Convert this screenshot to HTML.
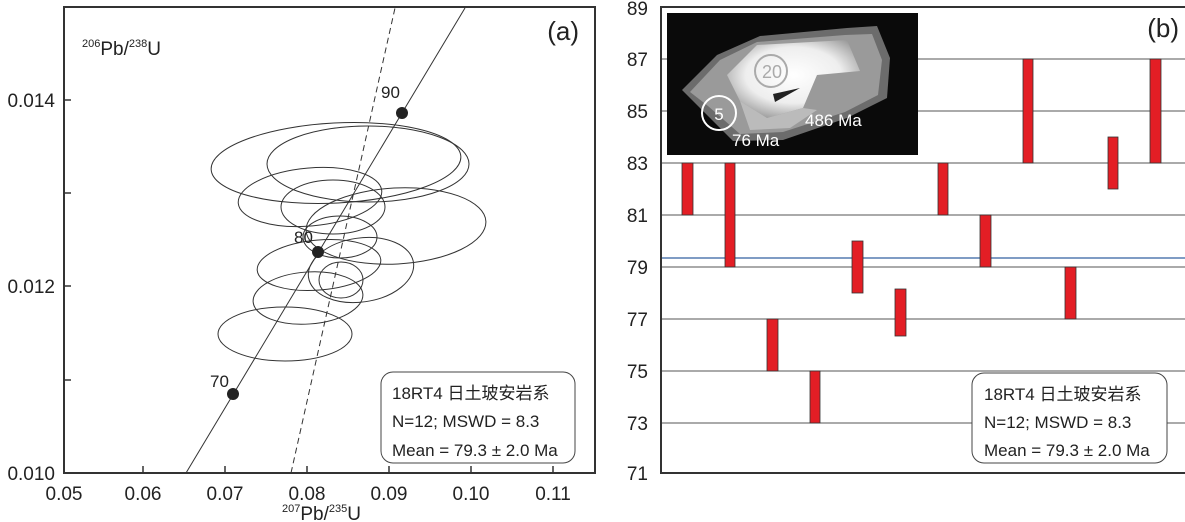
<!DOCTYPE html>
<html><head><meta charset="utf-8"><style>
html,body{margin:0;padding:0;background:#fff;}
svg{display:block;font-family:"Liberation Sans","Noto Sans CJK SC",sans-serif;}
</style></head><body>
<svg width="1185" height="522" viewBox="0 0 1185 522" xmlns="http://www.w3.org/2000/svg">
<defs>
<clipPath id="ca"><rect x="64" y="7" width="531" height="466"/></clipPath>
<radialGradient id="g1" cx="0.5" cy="0.45" r="0.6"><stop offset="0" stop-color="#fff"/><stop offset="0.6" stop-color="#eee"/><stop offset="1" stop-color="#999"/></radialGradient>
</defs>
<!-- Panel A -->
<rect x="64" y="7" width="531" height="466" fill="none" stroke="#333" stroke-width="2"/>
<g stroke="#333" stroke-width="1.5">
<line x1="143" y1="473" x2="143" y2="466"/><line x1="225" y1="473" x2="225" y2="466"/>
<line x1="307" y1="473" x2="307" y2="466"/><line x1="389" y1="473" x2="389" y2="466"/>
<line x1="471" y1="473" x2="471" y2="466"/><line x1="553" y1="473" x2="553" y2="466"/>
<line x1="64" y1="380" x2="71" y2="380"/><line x1="64" y1="286" x2="71" y2="286"/>
<line x1="64" y1="193" x2="71" y2="193"/><line x1="64" y1="100" x2="71" y2="100"/>
</g>
<g font-size="19" fill="#222" text-anchor="middle">
<text x="64" y="500">0.05</text><text x="143" y="500">0.06</text><text x="225" y="500">0.07</text>
<text x="307" y="500">0.08</text><text x="389" y="500">0.09</text><text x="471" y="500">0.10</text><text x="553" y="500">0.11</text>
</g>
<g font-size="19" fill="#222" text-anchor="end">
<text x="55" y="480">0.010</text><text x="55" y="293">0.012</text><text x="55" y="107">0.014</text>
</g>
<text x="282" y="520" font-size="19" fill="#222"><tspan font-size="11" dy="-8">207</tspan><tspan dy="8">Pb/</tspan><tspan font-size="11" dy="-8">235</tspan><tspan dy="8">U</tspan></text>
<text x="82" y="55" font-size="19" fill="#222"><tspan font-size="11" dy="-8">206</tspan><tspan dy="8">Pb/</tspan><tspan font-size="11" dy="-8">238</tspan><tspan dy="8">U</tspan></text>
<text x="579" y="40" font-size="26" fill="#222" text-anchor="end">(a)</text>
<g clip-path="url(#ca)" fill="none" stroke="#333" stroke-width="1">
<line x1="186" y1="473" x2="465" y2="8"/>
<line x1="291" y1="473" x2="395" y2="8" stroke-dasharray="6,4"/>
<ellipse cx="336" cy="163" rx="125" ry="40" transform="rotate(-3 336 163)"/>
<ellipse cx="368" cy="164" rx="101" ry="38"/>
<ellipse cx="310" cy="197" rx="72" ry="29" transform="rotate(-5 310 197)"/>
<ellipse cx="333" cy="207" rx="52" ry="27"/>
<ellipse cx="396" cy="226" rx="90" ry="38" transform="rotate(-3 396 226)"/>
<ellipse cx="340" cy="237" rx="37" ry="21"/>
<ellipse cx="319" cy="265" rx="62" ry="25" transform="rotate(-5 319 265)"/>
<ellipse cx="361" cy="270" rx="53" ry="32" transform="rotate(-8 361 270)"/>
<ellipse cx="341" cy="280" rx="22" ry="18"/>
<ellipse cx="308" cy="298" rx="55" ry="26" transform="rotate(-4 308 298)"/>
<ellipse cx="285" cy="334" rx="67" ry="27"/>
</g>
<g fill="#222"><circle cx="233" cy="394" r="6"/><circle cx="318" cy="252" r="6"/><circle cx="402" cy="113" r="6"/></g>
<g font-size="17" fill="#222"><text x="210" y="387">70</text><text x="294" y="243">80</text><text x="381" y="98">90</text></g>
<rect x="381" y="372" width="194" height="91" rx="12" fill="#fff" stroke="#444" stroke-width="1"/>
<g font-size="17" fill="#222"><text x="392" y="399">18RT4 日土玻安岩系</text><text x="392" y="427">N=12;  MSWD = 8.3</text><text x="392" y="456">Mean = 79.3 ± 2.0 Ma</text></g>

<!-- Panel B -->
<g stroke="#555" stroke-width="1">
<line x1="661" y1="59" x2="1185" y2="59"/><line x1="661" y1="111" x2="1185" y2="111"/>
<line x1="661" y1="163" x2="1185" y2="163"/><line x1="661" y1="215" x2="1185" y2="215"/>
<line x1="661" y1="267" x2="1185" y2="267"/><line x1="661" y1="319" x2="1185" y2="319"/>
<line x1="661" y1="371" x2="1185" y2="371"/><line x1="661" y1="423" x2="1185" y2="423"/>
</g>
<line x1="661" y1="258" x2="1185" y2="258" stroke="#7f9cc4" stroke-width="2"/>
<rect x="661" y="7" width="530" height="466" fill="none" stroke="#333" stroke-width="2"/>
<g font-size="19" fill="#222" text-anchor="end">
<text x="648" y="15">89</text><text x="648" y="66">87</text><text x="648" y="118">85</text><text x="648" y="170">83</text>
<text x="648" y="222">81</text><text x="648" y="274">79</text><text x="648" y="326">77</text><text x="648" y="378">75</text>
<text x="648" y="430">73</text><text x="648" y="480">71</text>
</g>
<g fill="#e31e25" stroke="#333" stroke-width="0.8">
<rect x="682" y="163" width="11" height="52"/>
<rect x="725" y="163" width="10" height="104"/>
<rect x="767" y="319" width="11" height="52"/>
<rect x="810" y="371" width="10" height="52"/>
<rect x="852" y="241" width="11" height="52"/>
<rect x="895" y="289" width="11" height="47"/>
<rect x="938" y="163" width="10" height="52"/>
<rect x="980" y="215" width="11" height="52"/>
<rect x="1023" y="59" width="10" height="104"/>
<rect x="1065" y="267" width="11" height="52"/>
<rect x="1108" y="137" width="10" height="52"/>
<rect x="1150" y="59" width="11" height="104"/>
</g>
<text x="1179" y="37" font-size="26" fill="#222" text-anchor="end">(b)</text>
<!-- inset -->
<rect x="667" y="13" width="251" height="142" fill="#0a0a0a"/>
<polygon points="682,90 717,55 760,36 847,28 877,26 890,58 887,98 847,118 783,140 733,141 700,108" fill="#777" opacity="0.9"/>
<polygon points="690,92 720,60 757,42 845,35 872,34 882,60 878,95 845,112 783,132 740,134 708,106" fill="#9a9a9a"/>
<polygon points="727,75 757,45 847,40 860,71 817,75 803,108 767,118 740,101" fill="url(#g1)"/>
<polygon points="740,101 767,118 803,108 817,110 790,128 750,130" fill="#bbb"/>
<polygon points="773,94 800,88 775,102" fill="#222"/>
<circle cx="719" cy="113" r="17" fill="none" stroke="#fff" stroke-width="2"/>
<text x="719" y="120" font-size="17" fill="#fff" text-anchor="middle">5</text>
<circle cx="771" cy="71" r="16" fill="none" stroke="#aaa" stroke-width="2"/>
<text x="772" y="78" font-size="18" fill="#aaa" text-anchor="middle">20</text>
<text x="732" y="146" font-size="17" fill="#fff">76 Ma</text>
<text x="805" y="126" font-size="17" fill="#fff">486 Ma</text>
<rect x="972" y="373" width="195" height="90" rx="12" fill="#fff" stroke="#444" stroke-width="1"/>
<g font-size="17" fill="#222"><text x="984" y="400">18RT4 日土玻安岩系</text><text x="984" y="428">N=12;  MSWD = 8.3</text><text x="984" y="456">Mean = 79.3 ± 2.0 Ma</text></g>
</svg>
</body></html>
